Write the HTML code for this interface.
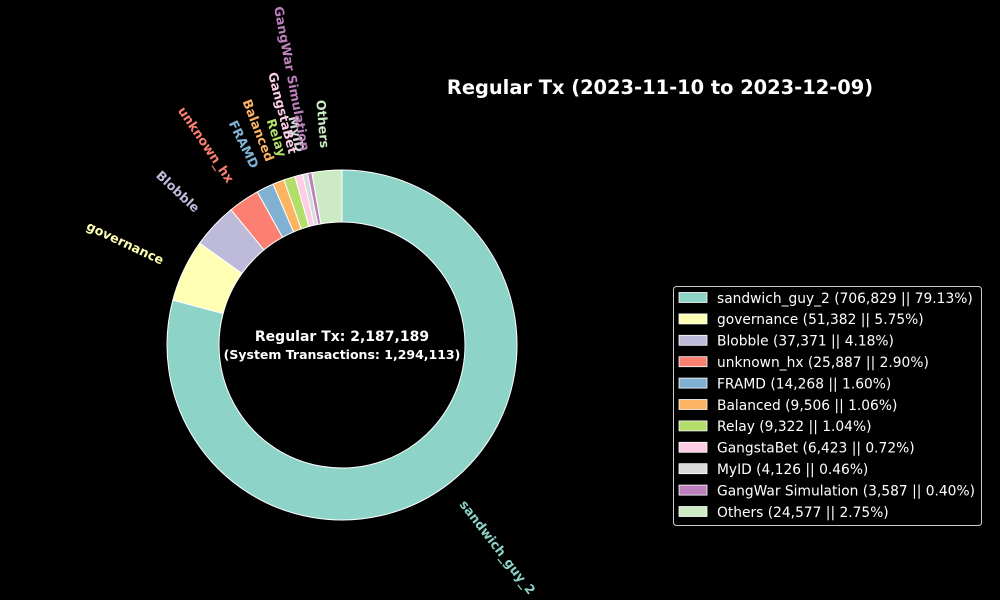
<!DOCTYPE html>
<html><head><meta charset="utf-8"><style>
html,body{margin:0;padding:0;background:#000;}
svg{display:block;font-family:"DejaVu Sans","Liberation Sans",sans-serif;}
</style></head><body>
<svg id="chart" width="1000" height="600" viewBox="0 0 1000 600">
<rect width="1000" height="600" fill="#000"/>
<text x="660" y="94" fill="#fff" font-size="19.4" font-weight="bold" text-anchor="middle">Regular Tx (2023-11-10 to 2023-12-09)</text>
<g id="slices"></g>
<g id="labels"></g>
<text x="342" y="341" fill="#fff" font-size="14" font-weight="bold" text-anchor="middle">Regular Tx: 2,187,189</text>
<text x="342" y="359" fill="#fff" font-size="12.5" font-weight="bold" text-anchor="middle">(System Transactions: 1,294,113)</text>
<g id="legend"></g>
</svg>
<script>
const categories = ["sandwich_guy_2","governance","Blobble","unknown_hx","FRAMD","Balanced","Relay","GangstaBet","MyID","GangWar Simulation","Others"];
const values = [706829,51382,37371,25887,14268,9506,9322,6423,4126,3587,24577];
const percents = ["79.13%","5.75%","4.18%","2.90%","1.60%","1.06%","1.04%","0.72%","0.46%","0.40%","2.75%"];
const colors = ["#8dd3c7","#ffffb3","#bebada","#fb8072","#80b1d3","#fdb462","#b3de69","#fccde5","#d9d9d9","#bc80bd","#ccebc5"];
const NS="http://www.w3.org/2000/svg";
const cx=342, cy=345, R=175, r0=123;
const total=values.reduce((a,b)=>a+b,0);
function pt(a,rad){return [cx+rad*Math.sin(a), cy-rad*Math.cos(a)];}
const sg=document.getElementById('slices'), lg=document.getElementById('labels'), leg=document.getElementById('legend');
let acc=0;
const fmt=n=>n.toString().replace(/\B(?=(\d{3})+(?!\d))/g,",");
values.forEach((v,i)=>{
  const a0=acc/total*2*Math.PI; acc+=v; const a1=acc/total*2*Math.PI;
  const large=(a1-a0)>Math.PI?1:0;
  const p0=pt(a0,R),p1=pt(a1,R),q1=pt(a1,r0),q0=pt(a0,r0);
  const p=document.createElementNS(NS,'path');
  p.setAttribute('d',`M${p0[0]},${p0[1]} A${R},${R} 0 ${large} 1 ${p1[0]},${p1[1]} L${q1[0]},${q1[1]} A${r0},${r0} 0 ${large} 0 ${q0[0]},${q0[1]} Z`);
  p.setAttribute('fill',colors[i]); p.setAttribute('stroke','#fff'); p.setAttribute('stroke-width','1');
  
  
  sg.appendChild(p);
  const am=(a0+a1)/2; const lp=pt(am,R*1.13);
  let math=90-am*180/Math.PI;
  math=((math%360)+360)%360; if(math>180) math-=360;
  const right=Math.sin(am)>=0;
  let rot=math; if(rot>90) rot-=180; if(rot<-90) rot+=180;
  const t=document.createElementNS(NS,'text');
  t.setAttribute('transform',`translate(${lp[0]},${lp[1]}) rotate(${-rot})`);
  t.setAttribute('text-anchor',right?'start':'end');
  t.setAttribute('dominant-baseline','central');
  t.setAttribute('fill',colors[i]); t.setAttribute('font-size','12.7'); t.setAttribute('font-weight','bold');
  t.textContent=categories[i];
  
  
  lg.appendChild(t);
});
const box=document.createElementNS(NS,'rect');
box.setAttribute('x','673.5');box.setAttribute('y','286.5');box.setAttribute('width','308');box.setAttribute('height','239');box.setAttribute('rx','3');
box.setAttribute('fill','#000');box.setAttribute('stroke','#ccc');box.setAttribute('stroke-width','1');


leg.appendChild(box);
categories.forEach((c,i)=>{
  const y=298+i*21.4;
  const s=document.createElementNS(NS,'rect');
  s.setAttribute('x','679');s.setAttribute('y',y-5.5);s.setAttribute('width','28');s.setAttribute('height','10');
  s.setAttribute('fill',colors[i]);s.setAttribute('stroke','#fff');s.setAttribute('stroke-width','0.8');
  
  
  leg.appendChild(s);
  const t=document.createElementNS(NS,'text');
  t.setAttribute('x','717');t.setAttribute('y',y+4.8);t.setAttribute('fill','#fff');t.setAttribute('font-size','13.8');
  t.textContent=`${c} (${fmt(values[i])} || ${percents[i]})`;
  
  
  leg.appendChild(t);
});
</script>
</body></html>
